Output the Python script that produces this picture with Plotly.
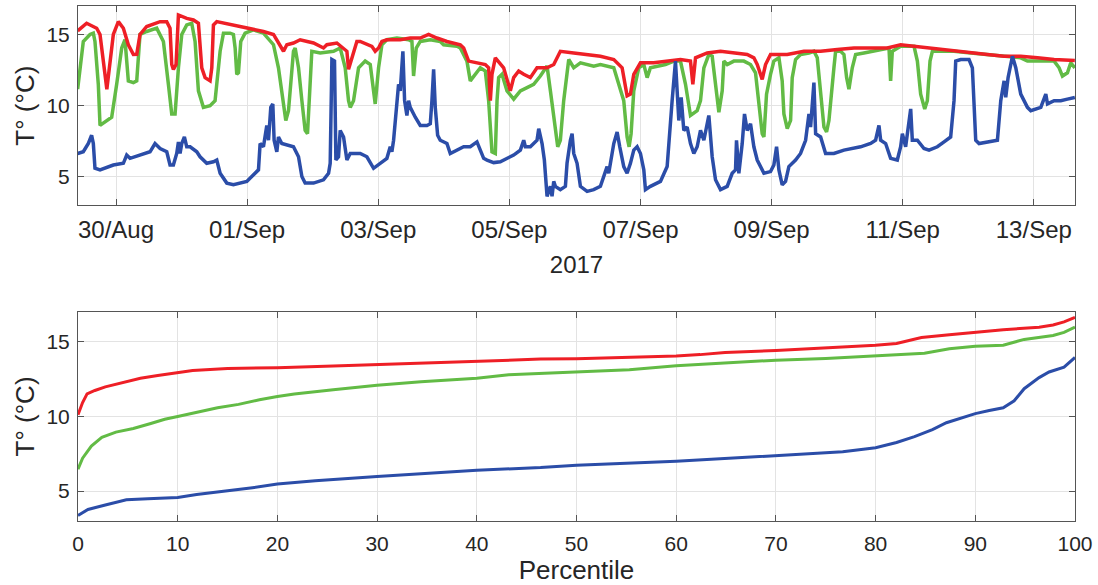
import pandas as pd
import plotly.graph_objects as go

T0 = pd.Timestamp("2017-08-29")

# ---- top panel: time series (days since 29/Aug/2017 00:00, temperature °C)
red_day = [0.415, 0.552, 0.705, 0.756, 0.86, 0.959, 1.036, 1.112, 1.188, 1.265, 1.316, 1.366, 1.468,
           1.672, 1.774, 1.824, 1.850, 1.875, 1.916, 1.952, 2.079, 2.181, 2.257, 2.308, 2.359, 2.435,
           2.461, 2.486, 2.537, 2.791, 2.995, 3.249, 3.402, 3.504, 3.555, 3.606, 3.707, 3.809, 4.013,
           4.165, 4.216, 4.369, 4.522, 4.547, 4.598, 4.674, 4.725,
           4.903, 4.954, 5.005, 5.056, 5.132, 5.336, 5.488, 5.641, 5.768, 5.895, 6.048, 6.252, 6.303,
           6.379, 6.506, 6.633, 6.684, 6.710, 6.735, 6.786, 6.913, 7.015, 7.066, 7.142, 7.219, 7.320,
           7.422, 7.575, 7.677, 7.778, 7.982, 8.186, 8.389, 8.593, 8.720, 8.796, 8.847, 8.898, 9.000,
           9.203, 9.407, 9.610, 9.763, 9.799, 9.840, 10.018, 10.221,
           10.425, 10.628, 10.730, 10.781, 10.857, 10.908, 10.984, 11.239, 11.493, 11.748, 12.002,
           12.257, 12.511, 12.766, 12.969, 13.173, 13.376, 13.580, 13.783, 14.089, 14.292, 14.547,
           14.801, 15.056, 15.310, 15.626]
red_temp = [15.25, 15.79, 15.44, 15.0, 11.15, 15.0, 15.9, 15.44, 14.28, 13.59, 13.6, 15.0, 15.56,
            15.9, 15.9, 15.44, 12.89, 12.55, 12.89, 16.37, 16.13, 16.02, 15.79, 12.66, 11.97, 11.74,
            12.66, 15.67, 15.9, 15.67, 15.44, 15.21, 15.0, 14.28, 13.82, 14.28, 14.40, 14.63, 14.40,
            14.05, 14.28, 14.40, 13.82, 12.55, 13.36, 14.51, 14.51,
            14.17, 13.82, 14.05, 14.51, 14.63, 14.63, 14.75, 14.75, 15.0, 14.75, 14.51, 14.28, 14.05,
            13.13, 13.01, 12.89, 12.66, 10.35, 12.2, 13.36, 12.66, 11.04, 11.97, 12.43, 12.2, 11.97,
            12.66, 12.66, 12.89, 13.82, 13.7, 13.59, 13.47, 13.24, 12.66, 10.69, 10.81, 12.2, 13.01,
            13.01, 13.13, 13.24, 13.13, 11.5, 13.36, 13.7, 13.82,
            13.7, 13.59, 13.36, 12.89, 11.85, 12.89, 13.59, 13.59, 13.82, 13.82, 13.94,
            14.05, 14.05, 14.05, 14.28, 14.17, 14.05, 13.94, 13.82, 13.7, 13.59, 13.47,
            13.47, 13.36, 13.24, 13.17]

green_day = [0.415, 0.476, 0.501, 0.603, 0.654, 0.679, 0.730, 0.756, 0.858, 0.934, 1.010, 1.087, 1.137,
             1.188, 1.265, 1.316, 1.366, 1.468, 1.621, 1.723, 1.799, 1.850, 1.901, 1.952, 2.003, 2.079,
             2.155, 2.206, 2.257, 2.333, 2.435, 2.511, 2.588, 2.639, 2.740, 2.791, 2.817, 2.842, 2.868,
             2.903, 2.969, 3.097, 3.249, 3.402, 3.478, 3.555, 3.590, 3.631, 3.707, 3.733, 3.784, 3.835,
             3.885, 3.921, 3.952, 3.987, 4.115, 4.318, 4.420, 4.496, 4.547, 4.573, 4.623, 4.700,
             4.801, 4.878, 4.954, 5.005, 5.056, 5.132, 5.285, 5.463, 5.514, 5.539, 5.580, 5.641, 5.794,
             5.946, 5.997, 6.201, 6.252, 6.353, 6.404, 6.481, 6.557, 6.633, 6.684, 6.735, 6.786, 6.812,
             6.837, 6.888, 6.964, 7.066, 7.168, 7.270, 7.371, 7.473, 7.575, 7.626, 7.702, 7.738, 7.778,
             7.829, 7.906, 7.982, 8.084, 8.186, 8.287, 8.389, 8.593, 8.745, 8.796, 8.827, 8.857, 8.898,
             8.974, 9.051, 9.102, 9.152, 9.305, 9.381, 9.509, 9.610, 9.687, 9.763, 9.865, 9.916, 9.967,
             10.043, 10.094, 10.145, 10.196, 10.247,
             10.272, 10.323, 10.425, 10.577, 10.679, 10.755, 10.806, 10.857, 10.883, 10.923, 10.984,
             11.035, 11.112, 11.162, 11.188, 11.239, 11.290, 11.315, 11.366, 11.442, 11.570, 11.646,
             11.697, 11.748, 11.799, 11.839, 11.875, 11.951, 11.977, 12.053, 12.104, 12.145, 12.180,
             12.231, 12.282, 12.409, 12.562, 12.715, 12.791, 12.816, 12.842, 12.969, 13.173, 13.224,
             13.274, 13.336, 13.376, 13.417, 13.453, 13.580, 13.783, 14.038, 14.292, 14.547, 14.801,
             14.903, 15.107, 15.310, 15.386, 15.437, 15.513, 15.564, 15.626]
green_temp = [11.16, 13.82, 14.51, 15.0, 15.09, 14.51, 11.5, 8.61, 8.96, 9.19, 11.5, 14.05, 14.63,
              11.74, 11.62, 11.74, 15.0, 15.21, 15.44, 14.51, 11.5, 9.42, 9.42, 12.66, 15.0, 15.67,
              15.79, 14.51, 11.04, 9.88, 10.0, 10.35, 13.82, 15.09, 15.09, 15.0, 14.05, 12.2, 12.31,
              14.51, 15.09, 15.32, 15.09, 14.28, 12.66, 10.35, 8.96, 9.65, 13.82, 14.05, 12.66, 10.35,
              8.26, 8.03, 10.35, 13.82, 13.7, 13.82, 14.05, 12.66, 10.35, 9.88, 10.35, 12.66,
              13.13, 12.89, 10.12, 12.66, 14.28, 14.63, 14.75, 14.63, 14.51, 12.08, 14.05, 14.51, 14.63,
              14.51, 14.28, 14.17, 14.05, 13.13, 11.74, 12.2, 12.66, 12.43, 10.35, 6.76, 6.64, 10.35,
              11.97, 12.2, 11.04, 10.46, 11.04, 11.27, 11.5, 12.08, 12.78, 11.04, 8.03, 7.11, 7.57,
              10.35, 13.24, 12.66, 13.01, 12.89, 12.78, 12.89, 12.66, 10.35, 7.8, 7.11, 8.03, 11.04,
              12.66, 12.89, 11.97, 12.66, 12.78, 12.89, 13.13, 13.13, 11.5, 9.31, 9.65, 10.35, 12.66,
              13.59, 13.47, 11.5, 9.54, 11.04,
              13.13, 12.89, 13.13, 13.13, 12.89, 12.31, 10.35, 8.03, 7.8, 10.81, 12.2,
              13.13, 13.36, 11.74, 9.42, 8.38, 8.96, 11.97, 13.24, 13.59, 13.7, 13.82,
              13.36, 10.81, 8.5, 8.15, 8.96, 12.66, 13.82, 13.82, 13.59, 11.97, 11.16,
              12.66, 13.59, 13.7, 13.82, 13.94, 14.05, 11.74, 13.82, 14.17, 14.17, 13.13,
              10.81, 9.77, 10.35, 13.13, 13.82, 13.82, 13.82, 13.7, 13.59, 13.47, 13.36,
              13.13, 13.13, 13.13, 12.66, 12.08, 12.31, 13.01, 12.66]

blue_day = [0.415, 0.501, 0.578, 0.628, 0.654, 0.679, 0.756, 0.959, 1.112, 1.163, 1.214, 1.366, 1.519,
            1.595, 1.672, 1.774, 1.824, 1.875, 1.926, 1.952, 1.977, 2.003, 2.043, 2.079, 2.130, 2.232,
            2.282, 2.384, 2.486, 2.537, 2.588, 2.690, 2.791, 2.995, 3.097, 3.173, 3.198, 3.249, 3.300,
            3.326, 3.361, 3.392, 3.412, 3.453, 3.478, 3.529, 3.707, 3.784, 3.835, 3.885, 4.013, 4.165,
            4.242, 4.267, 4.293, 4.333, 4.354, 4.394, 4.420, 4.471, 4.522, 4.573, 4.725,
            4.827, 4.929, 5.030, 5.132, 5.183, 5.208, 5.234, 5.285, 5.310, 5.336, 5.376, 5.402, 5.437,
            5.463, 5.488, 5.565, 5.641, 5.743, 5.794, 5.819, 5.845, 5.870, 5.906, 5.946, 6.048, 6.099,
            6.201, 6.303, 6.404, 6.506, 6.557, 6.608, 6.659, 6.761, 6.862, 6.964, 7.066, 7.168, 7.219,
            7.244, 7.320, 7.422, 7.448, 7.499, 7.534, 7.575, 7.626, 7.651, 7.677, 7.702, 7.778, 7.855,
            7.880, 7.931, 7.957, 7.982, 8.033, 8.084, 8.186, 8.287, 8.389, 8.491, 8.516, 8.593, 8.644,
            8.684, 8.745, 8.796, 8.847, 8.898, 8.949, 9.000, 9.051, 9.076, 9.152, 9.305, 9.407, 9.483,
            9.534, 9.585, 9.621, 9.661, 9.712, 9.763, 9.814, 9.865, 9.916, 9.967, 10.018, 10.043,
            10.094, 10.145, 10.221,
            10.323, 10.399, 10.450, 10.465, 10.501, 10.552, 10.587, 10.628, 10.679, 10.730, 10.781,
            10.883, 10.984, 11.035, 11.076, 11.112, 11.162, 11.213, 11.264, 11.366, 11.442, 11.519,
            11.570, 11.595, 11.646, 11.672, 11.748, 11.824, 11.951, 12.104, 12.206, 12.358, 12.511,
            12.587, 12.638, 12.664, 12.740, 12.816, 12.918, 12.969, 12.995, 13.045, 13.122, 13.147,
            13.224, 13.325, 13.402, 13.529, 13.631, 13.732, 13.783, 13.809, 13.885, 14.012, 14.063,
            14.114, 14.165, 14.292, 14.445, 14.496, 14.547, 14.572, 14.608, 14.674, 14.725, 14.801,
            14.903, 14.954, 15.107, 15.183, 15.209, 15.310, 15.412, 15.513, 15.626]
blue_temp = [6.64, 6.76, 7.34, 7.92, 7.34, 5.6, 5.49, 5.83, 5.95, 6.53, 6.3, 6.53, 6.76,
             7.34, 6.99, 6.76, 5.83, 5.83, 6.64, 7.45, 6.64, 7.34, 7.8, 7.11, 7.11, 6.76,
             6.41, 5.95, 6.06, 6.18, 5.25, 4.56, 4.44, 4.68, 5.14, 5.49, 7.34, 7.11, 8.61,
             7.57, 9.88, 10.12, 7.57, 6.76, 7.8, 7.34, 7.11, 6.41, 5.02, 4.56, 4.56, 4.79,
             5.25, 5.95, 13.24, 13.13, 6.18, 6.41, 8.26, 7.8, 6.18, 6.64, 6.64,
             6.41, 5.6, 5.95, 6.3, 7.11, 6.76, 7.57, 9.88, 11.5, 11.04, 13.82, 10.35, 9.31,
             10.35, 9.88, 9.19, 8.61, 8.61, 8.73, 10.35, 12.55, 9.88, 7.92, 7.57, 7.34, 6.64,
             6.88, 7.11, 7.11, 7.45, 6.88, 6.3, 6.18, 6.0, 6.06, 6.3, 6.53, 6.88, 7.57,
             7.11, 7.11, 7.57, 8.38, 7.34, 6.18, 3.63, 4.33, 3.63, 4.68, 4.33, 4.1, 4.33,
             5.95, 7.57, 8.03, 6.64, 5.95, 4.33, 3.98, 4.1, 4.33, 5.72, 5.25, 7.34, 8.15,
             7.11, 5.72, 5.25, 5.95, 6.88, 7.11, 6.64, 5.49, 4.1, 4.33, 4.68, 5.72, 10.35,
             13.13, 8.96, 10.58, 8.26, 8.5, 7.34, 6.64, 7.11, 8.26, 7.57, 8.73, 9.31,
             6.41, 4.79, 4.1,
             4.33, 5.25, 5.49, 7.57, 5.25, 7.34, 9.42, 8.26, 8.73, 7.11, 6.18,
             5.25, 5.37, 5.83, 7.11, 5.49, 4.44, 4.68, 5.72, 6.18, 6.64, 7.57,
             9.42, 8.5, 11.62, 8.03, 7.8, 6.64, 6.64, 6.88, 6.99, 7.11, 7.34,
             7.57, 8.61, 7.57, 7.34, 6.3, 6.18, 7.11, 8.03, 7.11, 9.77, 7.57,
             7.57, 6.99, 6.88, 7.11, 7.45, 7.8, 10.35, 13.13, 13.24, 13.24, 12.66,
             7.57, 7.34, 7.45, 7.57, 10.35, 11.74, 10.58, 11.97, 13.47, 12.66, 10.81,
             9.88, 9.65, 9.88, 10.81, 10.12, 10.35, 10.35, 10.46, 10.58]

# ---- bottom panel: percentile curves
red_pct = [0, 0.46, 0.91, 1.69, 2.74, 4.5, 6.26, 8.0, 10, 11.5, 15.0, 20, 25.6, 30, 34.4, 40,
           46.4, 50, 55.3, 60, 62.4, 64.9, 70, 75, 80, 82.1, 83.2, 84.6, 87.4, 90, 92.8, 96.4,
           97.8, 98.9, 100]
red_pct_temp = [10.12, 10.93, 11.51, 11.74, 11.98, 12.28, 12.56, 12.74, 12.95, 13.07, 13.21, 13.26,
                13.37, 13.47, 13.56, 13.72, 13.84, 13.86, 13.95, 14.05, 14.14, 14.28, 14.42, 14.58,
                14.77, 14.88, 15.05, 15.28, 15.47, 15.63, 15.81, 15.98, 16.12, 16.33, 16.63]

green_pct = [0, 0.46, 1.34, 2.39, 3.8, 5.55, 7.3, 8.7, 10, 11.9, 14.0, 16.1, 18.2, 20, 21.7, 25.6,
             30, 34.4, 40, 43.2, 46.4, 50, 55.3, 60, 64.2, 70, 75, 80, 84.9, 87.4, 90, 92.8, 94.9,
             97.8, 98.9, 100]
green_pct_temp = [6.47, 7.21, 8.02, 8.6, 8.95, 9.19, 9.53, 9.81, 10.0, 10.28, 10.58, 10.81, 11.12,
                  11.33, 11.51, 11.79, 12.09, 12.33, 12.56, 12.79, 12.88, 13.02, 13.12, 13.4, 13.56,
                  13.77, 13.88, 14.05, 14.23, 14.53, 14.7, 14.77, 15.16, 15.42, 15.63, 15.98]

blue_pct = [0, 1.0, 2.74, 4.85, 7.0, 10, 11.9, 15.4, 17.5, 20, 23.8, 30, 37.9, 40, 46.4, 50, 60,
            70, 76.7, 80, 82.1, 83.9, 85.7, 87.1, 90, 91.4, 92.8, 93.9, 94.9, 96.4, 97.4, 98.9, 100]
blue_pct_temp = [3.37, 3.77, 4.07, 4.42, 4.49, 4.58, 4.77, 5.05, 5.23, 5.47, 5.7, 5.98, 6.28, 6.4,
                 6.58, 6.74, 7.0, 7.35, 7.63, 7.91, 8.26, 8.65, 9.12, 9.58, 10.19, 10.4, 10.58,
                 11.05, 11.86, 12.6, 12.98, 13.3, 13.95]

RED = "#EE1F26"
GREEN = "#62BB45"
BLUE = "#2B4DA8"


def to_time(days):
    return T0 + pd.to_timedelta(pd.Series(days), unit="D")


fig = go.Figure()

for day, temp, col in [(green_day, green_temp, GREEN), (red_day, red_temp, RED), (blue_day, blue_temp, BLUE)]:
    fig.add_trace(go.Scatter(x=to_time(day), y=temp, mode="lines",
                             line=dict(color=col, width=3.5), xaxis="x", yaxis="y"))

for pct, temp, col in [(green_pct, green_pct_temp, GREEN), (red_pct, red_pct_temp, RED), (blue_pct, blue_pct_temp, BLUE)]:
    fig.add_trace(go.Scatter(x=pct, y=temp, mode="lines",
                             line=dict(color=col, width=3), xaxis="x2", yaxis="y2"))

FONT = "Liberation Sans, Arial, sans-serif"
TXT = "#262626"
axis_style = dict(
    showline=True, mirror="ticks", linecolor="#555555", linewidth=1,
    ticks="inside", ticklen=6, tickcolor="#555555",
    showgrid=True, gridcolor="#e3e3e3", gridwidth=1, zeroline=False,
    tickfont=dict(family=FONT, size=21, color=TXT),
)
title_font = dict(family=FONT, size=26, color=TXT)

fig.update_layout(
    width=1098, height=585,
    margin=dict(l=78, r=23, t=5, b=63),
    paper_bgcolor="white", plot_bgcolor="white",
    showlegend=False,
    xaxis=dict(axis_style, domain=[0, 1], anchor="y", type="date",
               range=["2017-08-29 10:05", "2017-09-13 15:05"],
               tick0="2017-08-30", dtick=2 * 86400000, tickformat="%d/%b",
               tickfont=dict(family=FONT, size=24, color=TXT),
               ticklabelstandoff=3,
               title=dict(text="2017", font=dict(family=FONT, size=24, color=TXT), standoff=14)),
    yaxis=dict(axis_style, domain=[0.613, 1], anchor="x", range=[3, 17],
               tickvals=[5, 10, 15], ticklabelstandoff=3,
               title=dict(text="T° (°C)", font=title_font, standoff=4)),
    xaxis2=dict(axis_style, domain=[0, 1], anchor="y2", range=[0, 100],
                tickvals=list(range(0, 101, 10)), ticklabelstandoff=4,
                title=dict(text="Percentile", font=title_font, standoff=7)),
    yaxis2=dict(axis_style, domain=[0, 0.406], anchor="x2", range=[3, 17],
                tickvals=[5, 10, 15], ticklabelstandoff=3,
                title=dict(text="T° (°C)", font=title_font, standoff=4)),
)

fig.write_html("out.html", config={"displayModeBar": False},
               post_script="document.body.style.margin='0';")
